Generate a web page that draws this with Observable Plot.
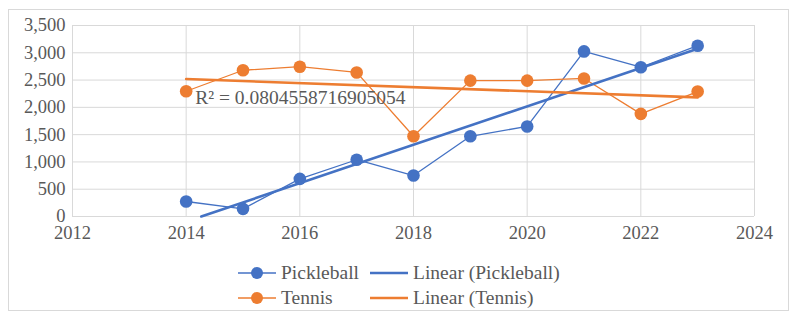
<!DOCTYPE html>
<html><head><meta charset="utf-8">
<script src="https://cdn.jsdelivr.net/npm/d3@7"></script>
<script src="https://cdn.jsdelivr.net/npm/@observablehq/plot@0.6"></script>
<style>
body{margin:0;background:#fff;}
#wrap, #wrap *{font-family:"Liberation Serif","Times New Roman","DejaVu Serif",serif !important;}
#wrap{position:relative;width:803px;height:326px;overflow:hidden;}
#border{position:absolute;left:8px;top:9px;width:781px;height:302px;border:1px solid #d9d9d9;box-sizing:border-box;}
#chart{position:absolute;left:0;top:0;}
#legend{position:absolute;left:238px;top:260px;color:#595959;font-size:19.5px;}
.row{display:flex;align-items:center;height:25px;}
.item{display:flex;align-items:center;}
.item svg{margin-right:3px;}
</style></head>
<body><div id="wrap"><div id="border"></div><div id="chart"></div><div id="legend"></div></div>
<script>
const years = [2014,2015,2016,2017,2018,2019,2020,2021,2022,2023];
const pickleball = [275,140,690,1040,750,1470,1650,3025,2735,3130];
const tennis = [2295,2680,2745,2640,1470,2490,2490,2530,1880,2290];
const seriesNames = ["Pickleball","Tennis"];
const colors = ["#4472C4","#ED7D31"];
const xTicks = [2012,2014,2016,2018,2020,2022,2024];
const yTicks = [0,500,1000,1500,2000,2500,3000,3500];
const r2Label = "R² = 0.0804558716905054";

const rows = [];
years.forEach((y,i)=>{rows.push({year:y,value:pickleball[i],series:"Pickleball"});rows.push({year:y,value:tennis[i],series:"Tennis"});});

function fit(vals){
  const mx=d3.mean(years), my=d3.mean(vals);
  let sxy=0,sxx=0; years.forEach((x,i)=>{sxy+=(x-mx)*(vals[i]-my);sxx+=(x-mx)**2;});
  const m=sxy/sxx, b=my-m*mx;
  let x0=d3.min(years), x1=d3.max(years);
  if(m*x0+b<0) x0=-b/m;
  return [{year:x0,value:m*x0+b},{year:x1,value:m*x1+b}];
}
const trendP = fit(pickleball), trendT = fit(tennis);

const yFmt = d3.format(",");
const xFmt = d3.format("d");
const plot = Plot.plot({
  width:803, height:250,
  marginLeft:72, marginRight:49, marginTop:25, marginBottom:34,
  style:{fontFamily:"Liberation Serif",fontSize:"18.5px",color:"#595959",background:"transparent"},
  x:{domain:[2012,2024],label:null},
  y:{domain:[0,3500],label:null},
  color:{domain:seriesNames,range:colors},
  marks:[
    Plot.gridX(xTicks,{stroke:"#d9d9d9",strokeOpacity:1}),
    Plot.gridY(yTicks,{stroke:"#d9d9d9",strokeOpacity:1}),
    Plot.axisX(xTicks,{tickFormat:xFmt,tickSize:0,tickPadding:9,fill:"#595959",fontSize:18.5}),
    Plot.axisY(yTicks,{tickFormat:yFmt,tickSize:0,tickPadding:7,fill:"#595959",fontSize:18.5}),
    Plot.line(rows,{x:"year",y:"value",z:"series",stroke:"series",strokeWidth:1.3}),
    Plot.dot(rows,{x:"year",y:"value",fill:"series",r:6.3}),
    Plot.line(trendP,{x:"year",y:"value",stroke:colors[0],strokeWidth:2.6}),
    Plot.line(trendT,{x:"year",y:"value",stroke:colors[1],strokeWidth:2.6}),
    Plot.text([r2Label],{x:2014.16,y:2170,text:d=>d,textAnchor:"start",fill:"#595959",fontSize:19.5})
  ]
});
document.getElementById("chart").appendChild(plot);

const legend = document.getElementById("legend");
function sym(color,dot){
  return `<svg width="40" height="14"><line x1="0" y1="7" x2="38" y2="7" stroke="${color}" stroke-width="${dot?1.3:2.6}"/>${dot?`<circle cx="19" cy="7" r="6" fill="${color}"/>`:""}</svg>`;
}
seriesNames.forEach((s,i)=>{
  const row=document.createElement("div");row.className="row";
  row.innerHTML=`<div class="item" style="width:132px">${sym(colors[i],true)}<span>${s}</span></div><div class="item">${sym(colors[i],false)}<span>Linear (${s})</span></div>`;
  legend.appendChild(row);
});
</script></body></html>
